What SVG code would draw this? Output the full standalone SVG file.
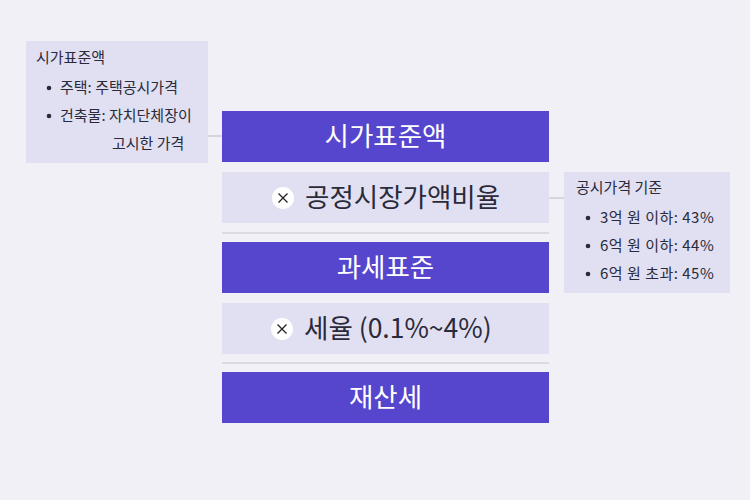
<svg xmlns="http://www.w3.org/2000/svg" width="750" height="500" viewBox="0 0 750 500">
<style>
text{font-family:"Noto Sans CJK KR","Noto Sans",sans-serif;font-weight:400}
.pb{fill:#5646cd}
.lb{fill:#e1e0f2}
.note{fill:#e1e0f2}
.wt{fill:#ffffff;font-size:26.5px;text-anchor:middle}
.dt{fill:#2a2a3a;font-size:26.5px}
.nt{fill:#2a2a3a;font-size:15px}
.sep{stroke:#c4c4cc;stroke-width:1.2}
.conn{stroke:#c4c4cc;stroke-width:1.2;fill:none}
</style>
<rect width="750" height="500" fill="#f0f0f6"/>
<g id="connectors">
<line class="conn" x1="208" y1="136" x2="222" y2="136"/>
<line class="conn" x1="549" y1="198" x2="564" y2="198"/>
<line class="sep" x1="222" y1="233" x2="549" y2="233"/>
<line class="sep" x1="222" y1="363" x2="549" y2="363"/>
</g>
<g id="n-siga">
<rect class="pb" x="222" y="111" width="327" height="51"/>
<text class="wt" x="385.5" y="146">시가표준액</text>
</g>
<g id="n-ratio">
<rect class="lb" x="222" y="172" width="327" height="51"/>
<circle cx="283" cy="198" r="11" fill="#ffffff"/>
<path d="M278.5 193.5 L287.5 202.5 M287.5 193.5 L278.5 202.5" stroke="#222" stroke-width="1.3"/>
<text class="dt" x="305" y="207">공정시장가액비율</text>
</g>
<g id="n-base">
<rect class="pb" x="222" y="242" width="327" height="51"/>
<text class="wt" x="385.5" y="277">과세표준</text>
</g>
<g id="n-rate">
<rect class="lb" x="222" y="303" width="327" height="51"/>
<circle cx="282" cy="329" r="11" fill="#ffffff"/>
<path d="M277.5 324.5 L286.5 333.5 M286.5 324.5 L277.5 333.5" stroke="#222" stroke-width="1.3"/>
<text class="dt" x="304" y="338">세율 (0.1%~4%)</text>
</g>
<g id="n-tax">
<rect class="pb" x="222" y="372" width="327" height="51"/>
<text class="wt" x="385.5" y="407">재산세</text>
</g>
<g id="note-left">
<rect class="note" x="26" y="41" width="182" height="122"/>
<text class="nt" x="36" y="63">시가표준액</text>
<circle cx="49" cy="88" r="2.3" fill="#2a2a3a"/>
<text class="nt" x="60" y="93">주택: 주택공시가격</text>
<circle cx="49" cy="116" r="2.3" fill="#2a2a3a"/>
<text class="nt" x="60" y="121">건축물: 자치단체장이</text>
<text class="nt" x="112" y="149">고시한 가격</text>
</g>
<g id="note-right">
<rect class="note" x="564" y="172" width="166" height="121"/>
<text class="nt" x="576" y="193">공시가격 기준</text>
<circle cx="588" cy="218" r="2.3" fill="#2a2a3a"/>
<text class="nt" x="600" y="223" letter-spacing="0.5">3억 원 이하: 43%</text>
<circle cx="588" cy="246" r="2.3" fill="#2a2a3a"/>
<text class="nt" x="600" y="251" letter-spacing="0.5">6억 원 이하: 44%</text>
<circle cx="588" cy="274" r="2.3" fill="#2a2a3a"/>
<text class="nt" x="600" y="279" letter-spacing="0.5">6억 원 초과: 45%</text>
</g>
</svg>
